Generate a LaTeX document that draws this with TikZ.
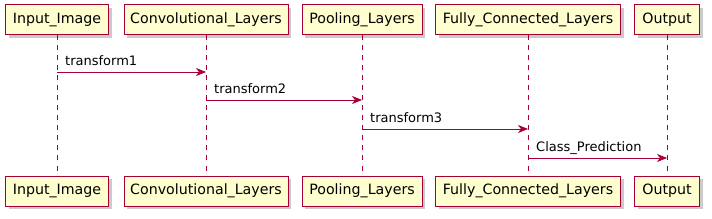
\documentclass[tikz,border=0pt]{standalone}
\usepackage{fontspec}
\setmainfont{DejaVu Sans}
\usetikzlibrary{arrows.meta,shadows}
\definecolor{umlred}{RGB}{168,0,54}
\definecolor{umlfill}{RGB}{254,254,206}

\begin{document}
\begin{tikzpicture}[x=1pt, y=-1pt,
  part/.style={rectangle, draw=umlred, fill=umlfill, line width=1pt,
               minimum height=30pt, minimum width=#1, inner sep=0pt,
               font=\fontsize{14.2}{16}\selectfont,
               drop shadow={shadow xshift=3pt, shadow yshift=-3pt,
                            fill=black!45, opacity=0.45}},
  life/.style={draw=umlred, line width=0.8pt, dash pattern=on 5pt off 5pt},
  msg/.style={draw=umlred, line width=0.8pt,
              -{Stealth[length=10pt, width=8pt, inset=3pt]}},
  lbl/.style={font=\fontsize{13}{15}\selectfont, anchor=base west,
              inner sep=0pt},
]
  \useasboundingbox (0,0) rectangle (712,219);

  % Top row
  \node[part=103pt] (in_t) at (57,20)    {Input\_Image};
  \node[part=164pt] (cv_t) at (206,20)   {Convolutional\_Layers};
  \node[part=120pt] (pl_t) at (362,20)   {Pooling\_Layers};
  \node[part=185pt] (fc_t) at (528,20)   {Fully\_Connected\_Layers};
  \node[part=65pt]  (out_t) at (667,20)  {Output};

  % Bottom row
  \node[part=103pt] (in_b) at (57,191)   {Input\_Image};
  \node[part=164pt] (cv_b) at (206,191)  {Convolutional\_Layers};
  \node[part=120pt] (pl_b) at (362,191)  {Pooling\_Layers};
  \node[part=185pt] (fc_b) at (528,191)  {Fully\_Connected\_Layers};
  \node[part=65pt]  (out_b) at (667,191) {Output};

  % Lifelines
  \draw[life] (in_t) -- (in_b);
  \draw[life] (cv_t) -- (cv_b);
  \draw[life] (pl_t) -- (pl_b);
  \draw[life] (fc_t) -- (fc_b);
  \draw[life] (out_t) -- (out_b);

  % Messages
  \draw[msg] (in_t |- 0,72) -- (cv_t |- 0,72);
  \node[lbl] (m1) at ([xshift=8pt]in_t |- 0,66) {transform1};
  \draw[msg] (cv_t |- 0,100) -- (pl_t |- 0,100);
  \node[lbl] (m2) at ([xshift=8pt]cv_t |- 0,94) {transform2};
  \draw[msg] (pl_t |- 0,129) -- (fc_t |- 0,129);
  \node[lbl] (m3) at ([xshift=8pt]pl_t |- 0,123) {transform3};
  \draw[msg] (fc_t |- 0,158) -- (out_t |- 0,158);
  \node[lbl] (m4) at ([xshift=8pt]fc_t |- 0,152) {Class\_Prediction};
\end{tikzpicture}
\end{document}
